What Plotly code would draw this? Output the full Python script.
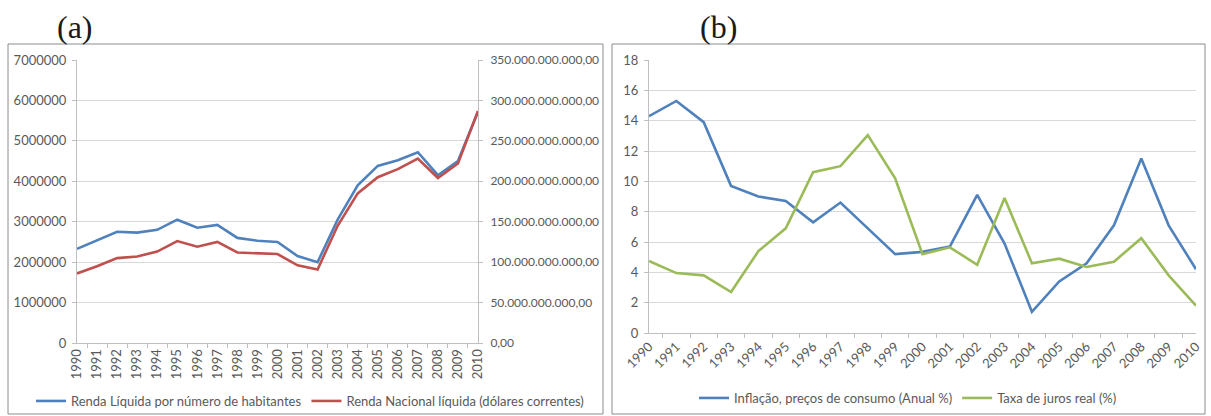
import plotly.graph_objects as go

anos = [str(a) for a in range(1990, 2011)]

# (a) renda
renda_per_capita = [2330000, 2550000, 2750000, 2730000, 2800000, 3050000, 2850000,
                    2920000, 2600000, 2530000, 2500000, 2150000, 2000000, 3050000,
                    3900000, 4380000, 4520000, 4720000, 4150000, 4500000, 5720000]
renda_nacional = [86e9, 95e9, 105e9, 107e9, 113e9, 126e9, 119e9, 125e9, 112e9, 111e9,
                  110e9, 96e9, 91e9, 145e9, 185e9, 205e9, 215e9, 228e9, 204e9, 222e9, 287e9]

# (b) inflação e juros
inflacao = [14.3, 15.3, 13.9, 9.7, 9.0, 8.7, 7.3, 8.6, 6.9, 5.2, 5.35, 5.7, 9.1, 5.9,
            1.4, 3.4, 4.6, 7.1, 11.5, 7.1, 4.2]
juros_real = [4.75, 3.95, 3.8, 2.7, 5.4, 6.9, 10.6, 11.0, 13.05, 10.2, 5.2, 5.65, 4.5,
              8.9, 4.6, 4.9, 4.35, 4.7, 6.25, 3.8, 1.8]

AZUL = "#4F81BD"
VERMELHO = "#C0504D"
VERDE = "#9BBB59"
GRID = "#D9D9D9"
EIXO = "#BFBFBF"
TXT = "#595959"
FONTE = "Lato"

W, H = 1211, 416


def px_x(v):
    return v / W


def px_y(v):
    return 1 - v / H


fig = go.Figure()
fig.add_trace(go.Scatter(x=anos, y=renda_per_capita, mode="lines", name="Renda Líquida por número de habitantes",
                         line=dict(color=AZUL, width=2.6), xaxis="x", yaxis="y", legend="legend"))
fig.add_trace(go.Scatter(x=anos, y=renda_nacional, mode="lines", name="Renda Nacional líquida (dólares correntes)",
                         line=dict(color=VERMELHO, width=2.6), xaxis="x", yaxis="y2", legend="legend"))
fig.add_trace(go.Scatter(x=anos, y=inflacao, mode="lines", name="Inflação, preços de consumo (Anual %)",
                         line=dict(color=AZUL, width=2.6), xaxis="x3", yaxis="y3", legend="legend2"))
fig.add_trace(go.Scatter(x=anos, y=juros_real, mode="lines", name="Taxa de juros real (%)",
                         line=dict(color=VERDE, width=2.6), xaxis="x3", yaxis="y3", legend="legend2"))

eixo_x = dict(type="category", tickson="boundaries", showgrid=False, showline=True, linecolor=EIXO,
              ticks="outside", ticklen=4, tickcolor=EIXO, tickfont=dict(size=13, color=TXT, family=FONTE),
              automargin=False, fixedrange=True)
eixo_y = dict(showgrid=True, gridcolor=GRID, gridwidth=1.3, showline=True, linecolor=EIXO,
              ticks="outside", ticklen=4, tickcolor=EIXO, zeroline=False, automargin=False,
              ticklabelstandoff=3, tickfont=dict(size=13, color=TXT, family=FONTE))

fig.update_layout(
    template="none",
    width=W, height=H,
    margin=dict(l=0, r=0, t=0, b=0, autoexpand=False),
    paper_bgcolor="white", plot_bgcolor="white",
    separators=",.",
    font=dict(family=FONTE, color=TXT, size=13),
    xaxis=dict(eixo_x, domain=[px_x(77), px_x(478)], anchor="y", tickangle=-90),
    yaxis=dict(eixo_y, domain=[px_y(343), px_y(60)], range=[0, 7e6], dtick=1e6, tickformat="d", anchor="x"),
    yaxis2=dict(eixo_y, range=[0, 350e9], dtick=50e9, tickformat=",.2f", overlaying="y", side="right",
                anchor="x", showgrid=False, ticklabelstandoff=5, tickfont=dict(size=12, color=TXT, family=FONTE)),
    xaxis3=dict(eixo_x, domain=[px_x(649), px_x(1196)], anchor="y3", tickangle=-45),
    yaxis3=dict(eixo_y, domain=[px_y(333), px_y(60)], range=[0, 18], dtick=2, anchor="x3"),
    legend=dict(orientation="h", x=px_x(310), xanchor="center", y=px_y(401), yanchor="middle",
                itemwidth=30, font=dict(size=13, color=TXT, family=FONTE), bgcolor="rgba(0,0,0,0)"),
    legend2=dict(orientation="h", x=px_x(908), xanchor="center", y=px_y(398), yanchor="middle",
                 itemwidth=30, font=dict(size=13, color=TXT, family=FONTE), bgcolor="rgba(0,0,0,0)"),
    showlegend=True,
)

# molduras dos painéis
fig.add_shape(type="rect", xref="paper", yref="paper", x0=px_x(8), x1=px_x(603), y0=px_y(414), y1=px_y(44),
              line=dict(color="#8C8C8C", width=1))
fig.add_shape(type="rect", xref="paper", yref="paper", x0=px_x(612), x1=px_x(1205), y0=px_y(414), y1=px_y(44),
              line=dict(color="#8C8C8C", width=1))

for rotulo, cx in [("(a)", 75), ("(b)", 718)]:
    fig.add_annotation(text=rotulo, xref="paper", yref="paper", x=px_x(cx), y=px_y(27),
                       showarrow=False, xanchor="center", yanchor="middle",
                       font=dict(family="Liberation Serif", size=32, color="#1a1a1a"))

fig.write_html("out.html", config={"displayModeBar": False},
               post_script="document.body.style.margin='0px';")
